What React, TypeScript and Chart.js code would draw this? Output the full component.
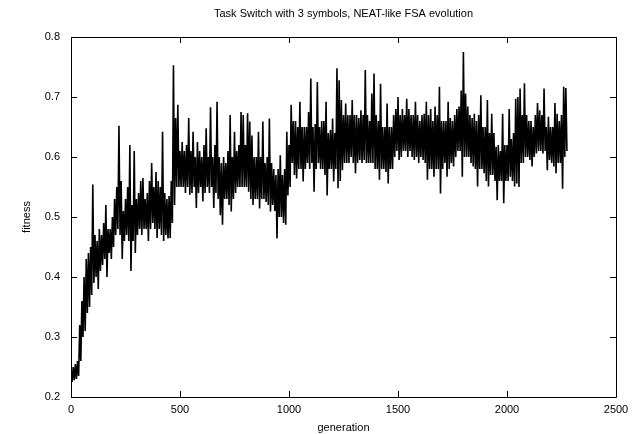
import React, { useEffect, useRef } from "react";
import { Chart, registerables } from "chart.js";

Chart.register(...registerables);

const titleText = "Task Switch with 3 symbols, NEAT-like FSA evolution";
const xLabel = "generation";
const yLabel = "fitness";
const xTicks = [0, 500, 1000, 1500, 2000, 2500];
const yTicks = [0.2, 0.3, 0.4, 0.5, 0.6, 0.7, 0.8];

// generation sampled every 10; high and low of the noisy trace in each window
const generations: number[] = [];
for (let g = 0; g <= 2270; g += 10) generations.push(g);

const highs = [
  0.245, 0.25, 0.255, 0.26, 0.32, 0.36, 0.4, 0.43, 0.44, 0.45,
  0.554, 0.47, 0.46, 0.48, 0.47, 0.49, 0.52, 0.48, 0.48, 0.5,
  0.53, 0.55, 0.652, 0.56, 0.51, 0.53, 0.55, 0.62, 0.52, 0.61,
  0.53, 0.54, 0.56, 0.565, 0.53, 0.54, 0.56, 0.59, 0.55, 0.575,
  0.56, 0.55, 0.642, 0.54, 0.53, 0.535, 0.56, 0.753, 0.665, 0.687,
  0.61, 0.625, 0.61, 0.62, 0.665, 0.61, 0.642, 0.6, 0.625, 0.61,
  0.6, 0.62, 0.648, 0.6, 0.683, 0.6, 0.62, 0.692, 0.6, 0.59,
  0.6, 0.59, 0.61, 0.67, 0.6, 0.642, 0.61, 0.62, 0.675, 0.67,
  0.62, 0.673, 0.659, 0.636, 0.6, 0.6, 0.642, 0.6, 0.659, 0.59,
  0.6, 0.664, 0.59, 0.58, 0.57, 0.58, 0.603, 0.57, 0.58, 0.642,
  0.62, 0.687, 0.66, 0.66, 0.65, 0.692, 0.65, 0.65, 0.65, 0.675,
  0.731, 0.65, 0.655, 0.725, 0.65, 0.66, 0.66, 0.692, 0.64, 0.645,
  0.664, 0.64, 0.748, 0.728, 0.695, 0.67, 0.689, 0.67, 0.67, 0.695,
  0.67, 0.67, 0.665, 0.678, 0.67, 0.745, 0.67, 0.66, 0.706, 0.739,
  0.67, 0.66, 0.722, 0.65, 0.65, 0.689, 0.65, 0.65, 0.67, 0.68,
  0.7, 0.67, 0.68, 0.67, 0.697, 0.68, 0.67, 0.67, 0.692, 0.67,
  0.66, 0.67, 0.672, 0.692, 0.67, 0.68, 0.66, 0.684, 0.67, 0.717,
  0.66, 0.66, 0.66, 0.692, 0.665, 0.66, 0.67, 0.68, 0.684, 0.711,
  0.775, 0.706, 0.684, 0.67, 0.665, 0.672, 0.66, 0.67, 0.703, 0.65,
  0.65, 0.695, 0.64, 0.672, 0.64, 0.617, 0.62, 0.61, 0.672, 0.62,
  0.62, 0.68, 0.63, 0.64, 0.697, 0.7, 0.714, 0.67, 0.723, 0.67,
  0.66, 0.66, 0.65, 0.67, 0.69, 0.678, 0.67, 0.714, 0.65, 0.667,
  0.65, 0.65, 0.69, 0.672, 0.66, 0.67, 0.717, 0.715,
];

const lows = [
  0.225, 0.228, 0.23, 0.235, 0.26, 0.3, 0.31, 0.34, 0.35, 0.37,
  0.39, 0.4, 0.38, 0.41, 0.42, 0.43, 0.4, 0.44, 0.43, 0.45,
  0.47, 0.48, 0.47, 0.43, 0.46, 0.47, 0.46, 0.41, 0.46, 0.44,
  0.47, 0.48, 0.47, 0.48, 0.48, 0.46, 0.48, 0.49, 0.48, 0.465,
  0.48, 0.47, 0.46, 0.47, 0.464, 0.465, 0.49, 0.52, 0.55, 0.55,
  0.55, 0.55, 0.54, 0.55, 0.537, 0.54, 0.55, 0.515, 0.54, 0.55,
  0.526, 0.54, 0.55, 0.54, 0.55, 0.515, 0.54, 0.53, 0.503, 0.487,
  0.53, 0.53, 0.52, 0.509, 0.53, 0.54, 0.55, 0.55, 0.55, 0.55,
  0.55, 0.542, 0.53, 0.52, 0.53, 0.53, 0.514, 0.53, 0.53, 0.525,
  0.52, 0.509, 0.52, 0.51, 0.464, 0.5, 0.5, 0.49, 0.487, 0.536,
  0.55, 0.59, 0.57, 0.564, 0.58, 0.58, 0.559, 0.58, 0.59, 0.58,
  0.59, 0.542, 0.58, 0.59, 0.58, 0.58, 0.57, 0.536, 0.58, 0.58,
  0.559, 0.58, 0.548, 0.56, 0.578, 0.59, 0.59, 0.59, 0.6, 0.59,
  0.573, 0.59, 0.595, 0.59, 0.595, 0.59, 0.59, 0.59, 0.59, 0.58,
  0.58, 0.562, 0.58, 0.58, 0.575, 0.556, 0.58, 0.58, 0.6, 0.61,
  0.595, 0.6, 0.61, 0.61, 0.6, 0.61, 0.6, 0.595, 0.6, 0.59,
  0.6, 0.595, 0.59, 0.562, 0.58, 0.58, 0.567, 0.58, 0.58, 0.539,
  0.58, 0.59, 0.567, 0.58, 0.59, 0.584, 0.6, 0.61, 0.61, 0.567,
  0.6, 0.6, 0.6, 0.59, 0.584, 0.58, 0.551, 0.58, 0.58, 0.573,
  0.56, 0.551, 0.57, 0.57, 0.56, 0.528, 0.56, 0.56, 0.523, 0.56,
  0.56, 0.567, 0.56, 0.551, 0.556, 0.55, 0.59, 0.59, 0.6, 0.6,
  0.595, 0.584, 0.6, 0.606, 0.61, 0.61, 0.606, 0.61, 0.578, 0.595,
  0.59, 0.584, 0.573, 0.59, 0.59, 0.547, 0.6, 0.61,
];

const FONT = "'Liberation Sans', Arial, Helvetica, sans-serif";

export default function App() {
  const ref = useRef<HTMLCanvasElement | null>(null);

  useEffect(() => {
    const canvas = ref.current;
    if (!canvas) return;
    const points: { x: number; y: number }[] = [];
    generations.forEach((g, i) => {
      points.push({ x: g, y: highs[i] });
      points.push({ x: g + 5, y: lows[i] });
    });

    const framePlugin = {
      id: "frame",
      afterDraw(chart: any) {
        const { ctx, chartArea: a, scales } = chart;
        ctx.save();
        ctx.strokeStyle = "#000";
        ctx.lineWidth = 1;
        ctx.beginPath();
        ctx.rect(Math.round(a.left) + 0.5, Math.round(a.top) + 0.5, Math.round(a.right - a.left), Math.round(a.bottom - a.top));
        ctx.stroke();
        const tl = 6;
        ctx.beginPath();
        xTicks.forEach((t) => {
          const x = Math.round(scales.x.getPixelForValue(t)) + 0.5;
          ctx.moveTo(x, a.bottom);
          ctx.lineTo(x, a.bottom - tl);
          ctx.moveTo(x, a.top);
          ctx.lineTo(x, a.top + tl);
        });
        yTicks.forEach((t) => {
          const y = Math.round(scales.y.getPixelForValue(t)) + 0.5;
          ctx.moveTo(a.left, y);
          ctx.lineTo(a.left + tl, y);
          ctx.moveTo(a.right, y);
          ctx.lineTo(a.right - tl, y);
        });
        ctx.stroke();
        ctx.fillStyle = "#000";
        ctx.font = `11px ${FONT}`;
        ctx.textAlign = "center";
        ctx.textBaseline = "middle";
        const cx = (a.left + a.right) / 2;
        ctx.fillText(titleText, cx, 14);
        ctx.fillText(xLabel, cx, 428);
        ctx.translate(27, (a.top + a.bottom) / 2);
        ctx.rotate(-Math.PI / 2);
        ctx.fillText(yLabel, 0, 0);
        ctx.restore();
      },
    };

    const chart = new Chart(canvas, {
      type: "line",
      data: {
        datasets: [
          {
            data: points,
            borderColor: "#000",
            borderWidth: 1.6,
            pointRadius: 0,
            tension: 0,
            fill: false,
          },
        ],
      },
      options: {
        responsive: false,
        animation: false,
        parsing: false,
        normalized: true,
        layout: { padding: { left: 0, right: 20, top: 37, bottom: 0 } },
        plugins: { legend: { display: false }, title: { display: false }, tooltip: { enabled: false } },
        scales: {
          x: {
            type: "linear",
            min: 0,
            max: 2500,
            afterBuildTicks: (s: any) => {
              s.ticks = xTicks.map((v) => ({ value: v }));
            },
            afterFit: (s: any) => {
              s.height = 37;
            },
            grid: { display: false, drawTicks: false },
            border: { display: false },
            ticks: {
              color: "#000",
              font: { family: FONT, size: 11 },
              padding: 6,
              maxRotation: 0,
              autoSkip: false,
              callback: (v: any) => String(v),
            },
          },
          y: {
            type: "linear",
            min: 0.2,
            max: 0.8,
            afterBuildTicks: (s: any) => {
              s.ticks = yTicks.map((v) => ({ value: v }));
            },
            afterFit: (s: any) => {
              s.width = 71;
            },
            grid: { display: false, drawTicks: false },
            border: { display: false },
            ticks: {
              color: "#000",
              font: { family: FONT, size: 11 },
              padding: 11,
              autoSkip: false,
              callback: (v: any) => Number(v).toFixed(1),
            },
          },
        },
      },
      plugins: [framePlugin],
    } as any);

    return () => chart.destroy();
  }, []);

  return (
    <div style={{ position: "fixed", left: 0, top: 0, width: 636, height: 434, background: "#fff" }}>
      <canvas ref={ref} width={636} height={434} style={{ width: 636, height: 434, display: "block" }} />
    </div>
  );
}
